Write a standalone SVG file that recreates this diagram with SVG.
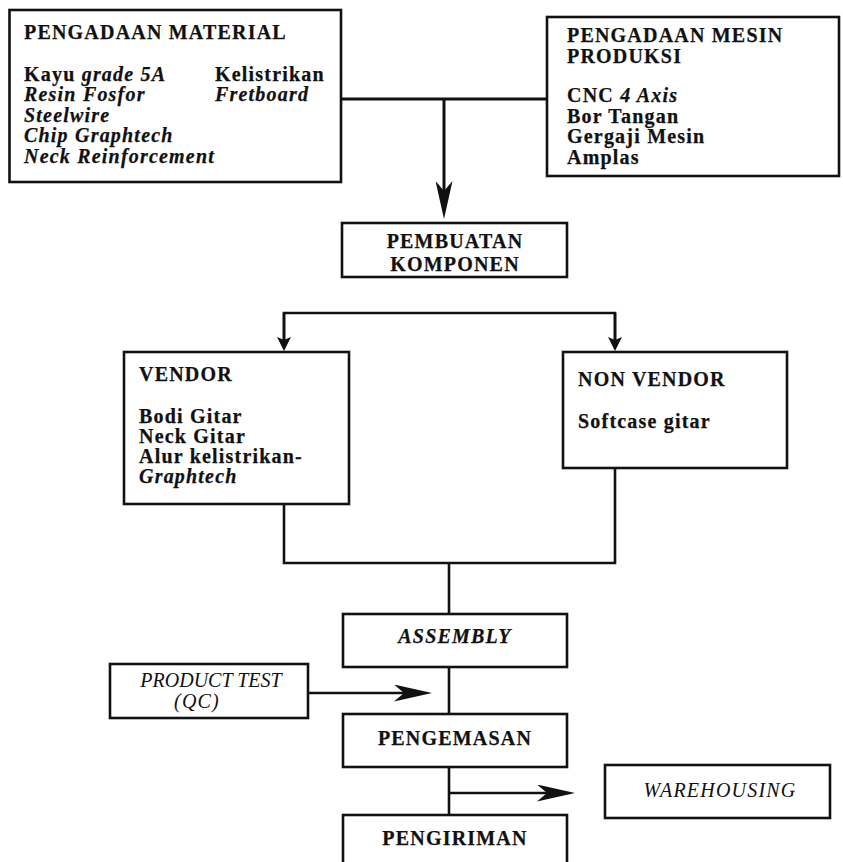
<svg xmlns="http://www.w3.org/2000/svg" width="843" height="862" viewBox="0 0 843 862">
  <style>
    .box { fill: #ffffff; stroke: #111111; stroke-width: 2.6; }
    .ln { fill: none; stroke: #111111; stroke-width: 2.6; }
    .t { font-family: "Liberation Serif", "Times New Roman", serif; font-size: 20px; fill: #111111; letter-spacing: 1.2px; }
    .b { font-weight: bold; stroke: #111111; stroke-width: 0.25; }
    .i { font-style: italic; }
    .c { text-anchor: middle; }
  </style>
  <defs>
    <!-- long barbed arrowhead, tip at the path end -->
    <marker id="stealth" markerUnits="userSpaceOnUse" viewBox="0 0 38 17" markerWidth="38" markerHeight="17" refX="10" refY="8.5" orient="auto">
      <path d="M0,0 L38,8.5 L0,17 L10,8.5 Z" fill="#111111"/>
    </marker>
    <!-- short arrowhead for the branch lines -->
    <marker id="barb" markerUnits="userSpaceOnUse" viewBox="0 0 14 14" markerWidth="14" markerHeight="14" refX="3" refY="7" orient="auto">
      <path d="M0,0 L14,7 L0,14 L3,7 Z" fill="#111111"/>
    </marker>
  </defs>

  <g id="connectors">
    <!-- supply boxes to component making -->
    <path class="ln" d="M341,99 H547" style="stroke-width:3"/>
    <path class="ln" d="M444,99 V191" style="stroke-width:3" marker-end="url(#stealth)"/>
    <!-- split into vendor / non vendor -->
    <path class="ln" d="M284,340 V313 H615 V340"/>
    <path class="ln" d="M284,313 V340" marker-end="url(#barb)"/>
    <path class="ln" d="M615,313 V340" marker-end="url(#barb)"/>
    <!-- merge into assembly -->
    <path class="ln" d="M284,504 V563 H615 V468"/>
    <path class="ln" d="M449,563 V614"/>
    <path class="ln" d="M449,667 V714"/>
    <path class="ln" d="M449,767 V815"/>
    <!-- side flows -->
    <path class="ln" d="M308,693 H404" marker-end="url(#stealth)"/>
    <path class="ln" d="M449,793 H547" marker-end="url(#stealth)"/>
  </g>

  <g id="pengadaan-material">
    <rect class="box" x="9.5" y="10" width="331.5" height="172"/>
    <text class="t b" x="24" y="39">PENGADAAN MATERIAL</text>
    <text class="t b" x="24" y="80.5">Kayu <tspan class="i">grade 5A</tspan></text>
    <text class="t b i" x="24" y="101">Resin Fosfor</text>
    <text class="t b i" x="24" y="121.5">Steelwire</text>
    <text class="t b i" x="24" y="142">Chip Graphtech</text>
    <text class="t b i" x="24" y="162.5">Neck Reinforcement</text>
    <text class="t b" x="215" y="80.5">Kelistrikan</text>
    <text class="t b i" x="215" y="101">Fretboard</text>
  </g>

  <g id="pengadaan-mesin">
    <rect class="box" x="547" y="17" width="292" height="159"/>
    <text class="t b" x="567" y="42">PENGADAAN MESIN</text>
    <text class="t b" x="567" y="63">PRODUKSI</text>
    <text class="t b" x="567" y="102">CNC <tspan class="i">4 Axis</tspan></text>
    <text class="t b" x="567" y="122.5">Bor Tangan</text>
    <text class="t b" x="567" y="143">Gergaji Mesin</text>
    <text class="t b" x="567" y="163.5">Amplas</text>
  </g>

  <g id="pembuatan-komponen">
    <rect class="box" x="342" y="223" width="225" height="54"/>
    <text class="t b c" x="455" y="248">PEMBUATAN</text>
    <text class="t b c" x="455" y="271">KOMPONEN</text>
  </g>

  <g id="vendor">
    <rect class="box" x="124" y="352" width="225" height="152"/>
    <text class="t b" x="139" y="381">VENDOR</text>
    <text class="t b" x="139" y="423">Bodi Gitar</text>
    <text class="t b" x="139" y="443">Neck Gitar</text>
    <text class="t b" x="139" y="463">Alur kelistrikan-</text>
    <text class="t b i" x="139" y="483">Graphtech</text>
  </g>

  <g id="non-vendor">
    <rect class="box" x="563" y="352" width="224" height="116"/>
    <text class="t b" x="578" y="386">NON VENDOR</text>
    <text class="t b" x="578" y="428">Softcase gitar</text>
  </g>

  <g id="assembly">
    <rect class="box" x="343" y="614" width="224" height="53"/>
    <text class="t b i c" x="455" y="643">ASSEMBLY</text>
  </g>

  <g id="product-test">
    <rect class="box" x="110" y="664" width="198" height="54"/>
    <text class="t i c" x="211" y="687" style="letter-spacing:0">PRODUCT TEST</text>
    <text class="t i c" x="197" y="708">(QC)</text>
  </g>

  <g id="pengemasan">
    <rect class="box" x="343" y="714" width="224" height="53"/>
    <text class="t b c" x="455" y="745">PENGEMASAN</text>
  </g>

  <g id="warehousing">
    <rect class="box" x="605" y="765" width="225" height="53"/>
    <text class="t i c" x="720" y="797">WAREHOUSING</text>
  </g>

  <g id="pengiriman">
    <rect class="box" x="343" y="815" width="224" height="60"/>
    <text class="t b c" x="455" y="845">PENGIRIMAN</text>
  </g>
</svg>
